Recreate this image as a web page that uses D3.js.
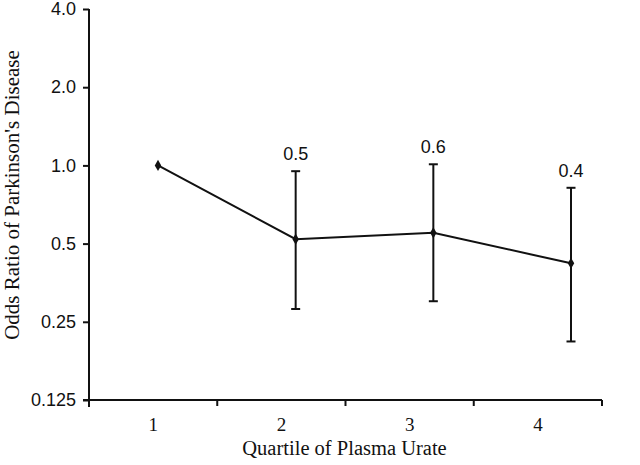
<!DOCTYPE html>
<html>
<head>
<meta charset="utf-8">
<script src="https://cdn.jsdelivr.net/npm/d3@7"></script>
<style>
  body { margin: 0; background: #fff; }
</style>
</head>
<body>
<script>
// data
var quartiles = [1, 2, 3, 4];
var oddsRatio = [1.0, 0.52, 0.55, 0.42];
var lowerCI   = [null, 0.28, 0.30, 0.21];
var upperCI   = [null, 0.95, 1.01, 0.82];
var orLabels  = ["", "0.5", "0.6", "0.4"];
var yTicks    = [0.125, 0.25, 0.5, 1, 2, 4];
var yTickText = ["0.125", "0.25", "0.5", "1.0", "2.0", "4.0"];

var width = 640, height = 465;

var svg = d3.select("body").append("svg")
    .attr("width", width)
    .attr("height", height);

var yScale = d3.scaleLog().base(2)
    .domain([0.125, 4])
    .range([400, 9]);

// category axis (labels centred in bands)
var xAxisScale = d3.scaleLinear()
    .domain([0.5, 4.5])
    .range([89, 602]);

// plotted points sit a bit right of the category labels, as in the original
var xData = d3.scaleLinear()
    .domain([1, 4])
    .range([158, 571]);

var black = "#111";

// y axis
var yAxis = svg.append("g")
    .attr("transform", "translate(" + xAxisScale(0.5) + ",0)")
    .call(d3.axisLeft(yScale)
        .tickValues(yTicks)
        .tickFormat(function(d, i) { return yTickText[i]; })
        .tickSize(6)
        .tickSizeOuter(0));
yAxis.select(".domain").remove();
yAxis.selectAll("line").attr("stroke", black).attr("stroke-width", 2);
yAxis.selectAll("text")
    .attr("x", -13)
    .style("font-family", "Arial, 'Liberation Sans', sans-serif")
    .style("font-size", "18px")
    .attr("fill", black);
yAxis.append("line")
    .attr("x1", 0).attr("x2", 0)
    .attr("y1", yScale(4))
    .attr("y2", yScale(0.125) + 7)
    .attr("stroke", black).attr("stroke-width", 2);

// x axis
var xAxis = svg.append("g")
    .attr("transform", "translate(0," + yScale(0.125) + ")");
xAxis.append("line")
    .attr("x1", xAxisScale(0.5) - 6)
    .attr("x2", xAxisScale(4.5))
    .attr("stroke", black).attr("stroke-width", 2);
xAxis.selectAll(".xtick")
    .data([0.5, 1.5, 2.5, 3.5, 4.5])
    .enter().append("line")
    .attr("x1", function(d) { return xAxisScale(d); })
    .attr("x2", function(d) { return xAxisScale(d); })
    .attr("y1", 0).attr("y2", 6)
    .attr("stroke", black).attr("stroke-width", 2);
xAxis.selectAll(".xlab")
    .data(quartiles)
    .enter().append("text")
    .attr("x", function(d) { return xAxisScale(d); })
    .attr("y", 31)
    .attr("text-anchor", "middle")
    .style("font-family", "'Times New Roman', 'Liberation Serif', serif")
    .style("font-size", "19px")
    .attr("fill", black)
    .text(function(d) { return d; });

// axis titles
svg.append("text")
    .attr("x", xAxisScale(2.5) - 1)
    .attr("y", 455)
    .attr("text-anchor", "middle")
    .style("font-family", "'Times New Roman', 'Liberation Serif', serif")
    .style("font-size", "20.5px")
    .attr("fill", black)
    .text("Quartile of Plasma Urate");

svg.append("text")
    .attr("transform", "translate(19,195) rotate(-90)")
    .attr("text-anchor", "middle")
    .style("font-family", "'Times New Roman', 'Liberation Serif', serif")
    .style("font-size", "21px")
    .attr("fill", black)
    .text("Odds Ratio of Parkinson's Disease");

var pts = quartiles.map(function(q, i) {
    return { q: q, or: oddsRatio[i], lo: lowerCI[i], hi: upperCI[i], lab: orLabels[i] };
});

// error bars
var eb = svg.append("g").selectAll("g")
    .data(pts.filter(function(d) { return d.lo != null; }))
    .enter().append("g");
eb.append("line")
    .attr("x1", function(d) { return xData(d.q); })
    .attr("x2", function(d) { return xData(d.q); })
    .attr("y1", function(d) { return yScale(d.lo); })
    .attr("y2", function(d) { return yScale(d.hi); })
    .attr("stroke", black).attr("stroke-width", 2);
["lo", "hi"].forEach(function(k) {
    eb.append("line")
        .attr("x1", function(d) { return xData(d.q) - 4.5; })
        .attr("x2", function(d) { return xData(d.q) + 4.5; })
        .attr("y1", function(d) { return yScale(d[k]); })
        .attr("y2", function(d) { return yScale(d[k]); })
        .attr("stroke", black).attr("stroke-width", 2);
});
eb.append("text")
    .attr("x", function(d) { return xData(d.q); })
    .attr("y", function(d) { return yScale(d.hi) - 11; })
    .attr("text-anchor", "middle")
    .style("font-family", "Arial, 'Liberation Sans', sans-serif")
    .style("font-size", "18px")
    .attr("fill", black)
    .text(function(d) { return d.lab; });

// line
var line = d3.line()
    .x(function(d) { return xData(d.q); })
    .y(function(d) { return yScale(d.or); });
svg.append("path")
    .datum(pts)
    .attr("d", line)
    .attr("fill", "none")
    .attr("stroke", black)
    .attr("stroke-width", 2);

// markers
svg.append("g").selectAll("path")
    .data(pts)
    .enter().append("path")
    .attr("transform", function(d) { return "translate(" + xData(d.q) + "," + yScale(d.or) + ")"; })
    .attr("d", d3.symbol(d3.symbolDiamond).size(36))
    .attr("fill", black);
</script>
</body>
</html>
